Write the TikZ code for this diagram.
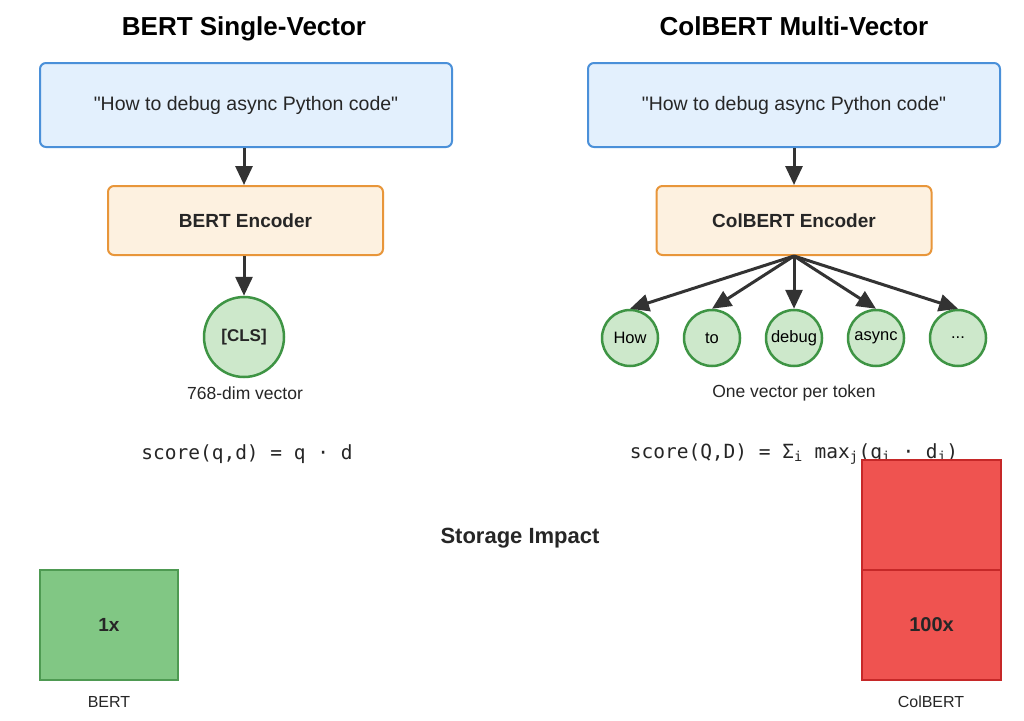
\documentclass[tikz,border=0pt]{standalone}
\usepackage{fontspec}
\setmainfont{Liberation Sans}
\newfontfamily\monofont{DejaVu Sans Mono}
\usetikzlibrary{arrows.meta}
\definecolor{qfill}{HTML}{E3F0FD}
\definecolor{qdraw}{HTML}{4A90D9}
\definecolor{efill}{HTML}{FDF1E0}
\definecolor{edraw}{HTML}{E8963A}
\definecolor{tfill}{HTML}{CDE8CB}
\definecolor{tdraw}{HTML}{3E9444}
\definecolor{gfill}{HTML}{81C784}
\definecolor{gdraw}{HTML}{4E9A52}
\definecolor{rfill}{HTML}{EF5350}
\definecolor{rdraw}{HTML}{C62828}
\definecolor{ink}{HTML}{333333}
\tikzset{
  title/.style={font=\fontsize{26}{26}\selectfont\bfseries, text=black, anchor=base},
  query/.style={draw=qdraw, fill=qfill, line width=2pt, rounded corners=6pt, minimum width=412pt, minimum height=84pt, font=\fontsize{19.5}{19.5}\selectfont, text=black!85},
  encoder/.style={draw=edraw, fill=efill, line width=2pt, rounded corners=6pt, minimum width=275pt, minimum height=69pt, font=\fontsize{19}{19}\selectfont\bfseries, text=black!85},
  bigtok/.style={circle, draw=tdraw, fill=tfill, line width=2.5pt, minimum size=80pt, inner sep=0pt, font=\fontsize{17}{17}\selectfont\bfseries, text=black!85},
  tok/.style={circle, draw=tdraw, fill=tfill, line width=2.5pt, minimum size=56pt, inner sep=0pt, font=\fontsize{16.5}{16.5}\selectfont, text=black},
  lbl/.style={font=\fontsize{17.5}{17.5}\selectfont, text=black!85},
  formula/.style={font=\monofont\fontsize{19.5}{19.5}\selectfont, text=black!85},
  arr/.style={draw=ink, line width=3pt, -{Triangle[length=19pt,width=17pt]}},
}
\begin{document}
\begin{tikzpicture}[x=1pt,y=-1pt]
\useasboundingbox (0,0) rectangle (1024,720);
\fill[white] (0,0) rectangle (1024,720);
% titles
\node[title] (t1) at (244,35) {BERT Single-Vector};
\node[title] (t2) at (794,35) {ColBERT Multi-Vector};
% left column
\node[query] (q1) at (246,105) {\textquotedbl How to debug async Python code\textquotedbl};
\node[encoder] (e1) at (245.5,220.5) {BERT Encoder};
\node[bigtok] (cls) at (244,337) {[CLS]};
\node[lbl] (l1) at (245,393) {768-dim vector};
\draw[arr] (q1.south -| cls.north) -- (e1.north -| cls.north);
\draw[arr] (e1.south -| cls.north) -- (cls.north);
% right column
\node[query] (q2) at (794,105) {\textquotedbl How to debug async Python code\textquotedbl};
\node[encoder] (e2) at (794,220.5) {ColBERT Encoder};
\node[tok] (k1) at (630,338) {How};
\node[tok] (k2) at (712,338) {to};
\node[tok] (k3) at (794,338) {debug};
\node[tok] (k4) at (876,338) {async};
\node[tok] (k5) at (958,338) {...};
\node[lbl] (l2) at (794,393) {One vector per token};
\draw[arr] (q2.south) -- (e2.north);
\foreach \k in {k1,k2,k3,k4,k5} \draw[arr] (e2.south) -- (\k.north);
% formulas
\node[formula] (f1) at (247,454) {score(q,d) = q · d};
\node[formula] (f2) at (794,454) {score(Q,D) = Σ\textsubscript{i} max\textsubscript{j}(q\textsubscript{i} · d\textsubscript{j})};
% storage
\node[font=\fontsize{22}{22}\selectfont\bfseries, text=black!85, anchor=base] (st) at (520,543) {Storage Impact};
\node[draw=gdraw, fill=gfill, line width=1.5pt, minimum width=138pt, minimum height=110pt, font=\fontsize{19}{19}\selectfont\bfseries, text=black!85] (g) at (109,625) {1x};
\node[lbl, font=\fontsize{16}{16}\selectfont] (gl) at (109,702) {BERT};
\node[draw=rdraw, fill=rfill, line width=1.5pt, minimum width=139pt, minimum height=110pt] (r1) at (931.5,515) {};
\node[draw=rdraw, fill=rfill, line width=1.5pt, minimum width=139pt, minimum height=110pt, font=\fontsize{20}{20}\selectfont\bfseries, text=black!85] (r2) at (931.5,625) {100x};
\node[lbl, font=\fontsize{16}{16}\selectfont] (rl) at (931,702) {ColBERT};
\end{tikzpicture}
\end{document}
